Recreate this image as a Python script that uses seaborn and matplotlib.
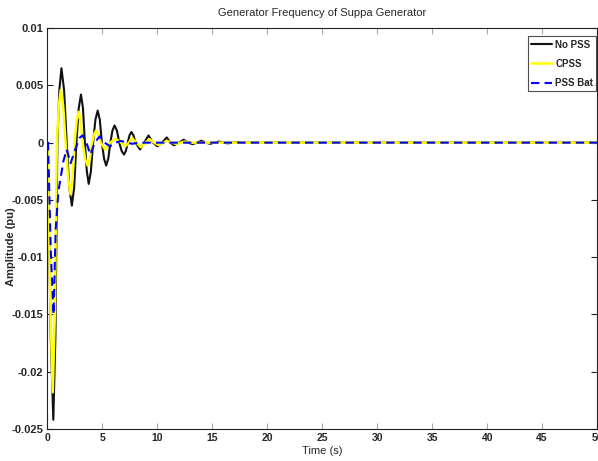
import numpy as np
import pandas as pd
import matplotlib
matplotlib.use('Agg')
import matplotlib.pyplot as plt
import seaborn as sns

# -----------------------------
# Dados (tempo em s, amplitude em pu)
# -----------------------------
t_nopss = [0, 0.3, 0.53, 0.72, 0.9, 1.08, 1.27, 1.51, 1.75, 1.98, 2.22, 2.43, 2.63,
           2.84, 3.05, 3.23, 3.4, 3.58, 3.75, 3.95, 4.15, 4.36, 4.57, 4.76, 4.95,
           5.15, 5.34, 5.53, 5.72, 5.91, 6.1, 6.32, 6.53, 6.75, 6.96, 7.13, 7.3,
           7.47, 7.63, 7.82, 8.02, 8.42, 8.8, 9.19, 9.6, 10.0,
           10.42, 10.85, 11.18, 11.5, 11.95, 12.4, 12.8, 13.2, 13.6, 14.0, 14.4, 14.8,
           15.2, 15.6, 16.0, 16.4, 16.8, 17.2, 17.6, 50]
v_nopss = [0, -0.017, -0.0242, -0.017, 0, 0.0046, 0.0065, 0.0046, 0, -0.0039, -0.0055, -0.0039, 0,
           0.0030, 0.0042, 0.0030, 0, -0.0025, -0.0036, -0.0025, 0, 0.0020, 0.0028, 0.0020, 0,
           -0.0014, -0.0020, -0.0014, 0, 0.00105, 0.0015, 0.00105, 0, -0.00073, -0.00104, -0.00073, 0,
           0.00065, 0.00093, 0.00065, 0, -0.0006, 0, 0.00063, 0, -0.00032,
           0, 0.00046, 0, -0.00023, 0, 0.00026, 0, -0.00013, 0, 0.00017, 0, -0.0001,
           0, 0.0001, 0, -0.00006, 0, 0.00004, 0, 0]

t_cpss = [0, 0.28, 0.48, 0.67, 0.85, 1.03, 1.21, 1.43, 1.65, 1.88, 2.1, 2.28, 2.47,
          2.65, 2.83, 3.02, 3.2, 3.42, 3.65, 3.85, 4.05, 4.23, 4.42, 4.63, 4.85,
          5.25, 5.7, 6.2, 6.7, 7.1, 7.4, 7.7, 8.1, 8.5, 8.9, 9.3, 9.7, 10.1, 10.5,
          10.9, 11.3, 11.7, 12.1, 12.5, 13.0, 50]
v_cpss = [0, -0.015, -0.0218, -0.015, 0, 0.0032, 0.0046, 0.0032, 0, -0.0031, -0.0045, -0.0031, 0,
          0.0019, 0.0027, 0.0019, 0, -0.0014, -0.0020, -0.0014, 0, 0.00073, 0.00104, 0.00073, 0,
          -0.0006, 0, 0.00035, 0, -0.0003, 0, 0.0004, 0, -0.0004, 0, 0.0003, 0, -0.0002, 0,
          0.00015, 0, -0.0001, 0, 0.0001, 0, 0]

t_pssbat = [0, 0.05, 0.3, 0.55, 0.75, 1.0, 1.45, 1.75, 2.1, 2.6, 2.9, 3.2, 3.55, 3.9,
            4.3, 4.75, 5.2, 5.7, 6.2, 6.7, 7.2, 7.7, 8.3, 50]
v_pssbat = [0, 0, -0.0095, -0.0150, -0.0075, -0.0042, -0.0016, -0.0006, -0.0018, -0.0004,
            0.0004, 0.00064, 0, -0.00104, 0, 0.00055, 0, -0.00032, 0, 0.00015, 0, -0.0001, 0, 0]

x_ticks = [0, 5, 10, 15, 20, 25, 30, 35, 40, 45, 50]
y_ticks = [0.01, 0.005, 0, -0.005, -0.01, -0.015, -0.02, -0.025]
y_tick_labels = ['0.01', '0.005', '0', '-0.005', '-0.01', '-0.015', '-0.02', '-0.025']

# -----------------------------
# Figura
# -----------------------------
sns.set_theme(style='white')
plt.rcParams['font.family'] = ['Liberation Sans', 'DejaVu Sans']

fig = plt.figure(figsize=(5.98, 4.61), dpi=100)
ax = fig.add_axes([0.0794, 0.0694, 0.919, 0.8696])

sns.lineplot(x=t_nopss, y=v_nopss, ax=ax, color='#111111', linewidth=1.5,
             sort=False, estimator=None, label='No PSS')
sns.lineplot(x=t_cpss, y=v_cpss, ax=ax, color='#ffff00', linewidth=1.8,
             sort=False, estimator=None, label='CPSS')
sns.lineplot(x=t_pssbat, y=v_pssbat, ax=ax, color='#0000ff', linewidth=1.5,
             sort=False, estimator=None, label='PSS Bat')
ax.lines[2].set_dashes([4, 2.5])

ax.set_xlim(0, 50)
ax.set_ylim(-0.025, 0.01)
ax.set_xticks(x_ticks)
ax.set_xticklabels([str(x) for x in x_ticks], fontsize=7.5, fontweight='bold')
ax.set_yticks(y_ticks)
ax.set_yticklabels(y_tick_labels, fontsize=8, fontweight='bold')
ax.tick_params(direction='in', length=4.5, width=0.8, color='#aaaaaa',
               top=True, right=True, bottom=True, left=True, pad=3)
ax.tick_params(axis='y', color='#222222')

for s in ax.spines.values():
    s.set_color('#222222')
    s.set_linewidth(0.8)

ax.set_title('Generator Frequency of Suppa Generator', fontsize=8, pad=9)
ax.set_xlabel('Time (s)', fontsize=8, labelpad=2)
ax.set_ylabel('Amplitude (pu)', fontsize=8, fontweight='bold')
ax.yaxis.set_label_coords(-0.058, 0.455)

leg = ax.legend(loc='upper right', bbox_to_anchor=(0.999, 0.98), fontsize=7,
                frameon=True, fancybox=False, borderpad=0.35, handlelength=2.2,
                handletextpad=0.3, labelspacing=0.95, borderaxespad=0)
leg.get_frame().set_edgecolor('#222222')
leg.get_frame().set_linewidth(0.8)
for txt in leg.get_texts():
    txt.set_fontweight('bold')

fig.savefig('out.png', dpi=100)
